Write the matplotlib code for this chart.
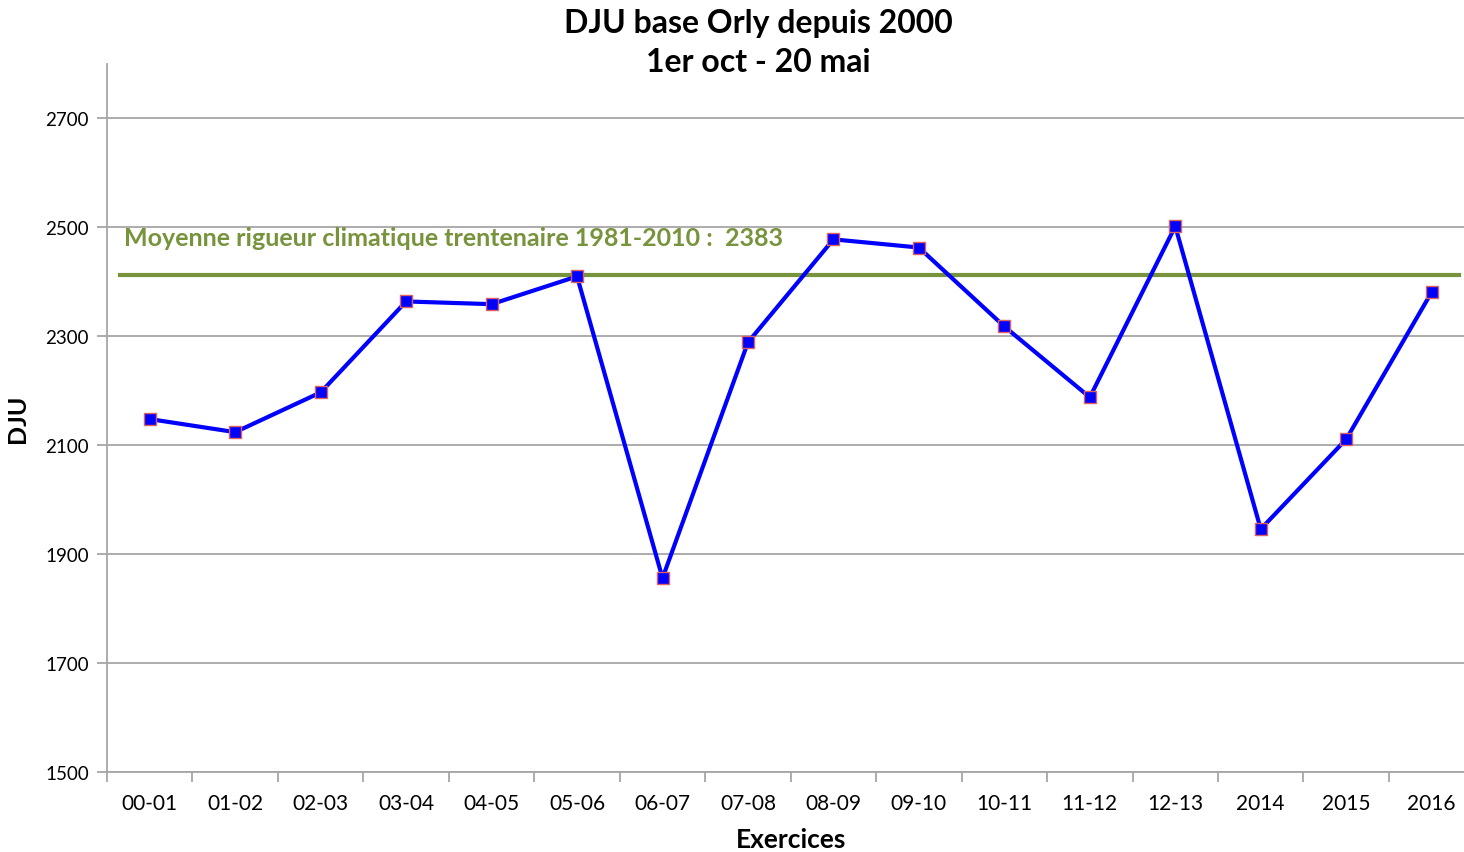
import numpy as np
import matplotlib
matplotlib.use('Agg')
from matplotlib import pyplot as plt

plt.rcParams['font.family'] = ['Lato', 'DejaVu Sans']

# data
exercices = ['00-01', '01-02', '02-03', '03-04', '04-05', '05-06', '06-07', '07-08',
             '08-09', '09-10', '10-11', '11-12', '12-13', '2014', '2015', '2016']
dju = [2148, 2124, 2197, 2364, 2359, 2410, 1856, 2289,
       2478, 2463, 2318, 2188, 2502, 1946, 2111, 2381]
moyenne_line = 2412
moyenne_label = 'Moyenne rigueur climatique trentenaire 1981-2010 :  2383'
y_ticks = [1500, 1700, 1900, 2100, 2300, 2500, 2700]

green = '#77933C'
grid_grey = '#A6A6A6'

fig = plt.figure(figsize=(14.64, 8.53), dpi=100)
# the original is cropped on the right, so the axes run slightly past the edge
ax = fig.add_axes([0.0731, 0.0938, 0.934, 0.830])

x = np.arange(len(exercices))

ax.set_ylim(1500, 2800)
ax.set_xlim(-0.5, len(exercices) - 0.5)
ax.set_yticks(y_ticks)
ax.yaxis.grid(True, color=grid_grey, linewidth=1.3)
ax.set_axisbelow(True)

ax.axhline(moyenne_line, xmin=0.0095, xmax=0.989, color=green, linewidth=3, zorder=2)
ax.text(0.0125, 2481, moyenne_label, transform=ax.get_yaxis_transform(),
        color=green, fontsize=18, fontweight='bold', va='center', ha='left')

ax.plot(x, dju, color='#0000FF', linewidth=3, marker='s', markersize=9,
        markerfacecolor='#0000FF', markeredgecolor='#E06060', markeredgewidth=1, zorder=3)

# categories centred, ticks between them
ax.set_xticks(np.arange(len(exercices) + 1) - 0.5)
ax.set_xticklabels([])
ax.set_xticks(x, minor=True)
ax.set_xticklabels(exercices, minor=True, fontsize=15)
ax.tick_params(axis='x', which='minor', length=0, pad=15)
ax.tick_params(axis='x', which='major', length=7, color=grid_grey, width=1.3)
ax.tick_params(axis='y', length=7, color=grid_grey, width=1.3, labelsize=13.5, pad=6)

for side in ['top', 'right']:
    ax.spines[side].set_visible(False)
for side in ['left', 'bottom']:
    ax.spines[side].set_color(grid_grey)
    ax.spines[side].set_linewidth(1.3)

ax.set_ylabel('DJU', fontsize=18, fontweight='bold', labelpad=12)
ax.set_xlabel('Exercices', fontsize=19, fontweight='bold', labelpad=10)
fig.suptitle('DJU base Orly depuis 2000\n1er oct - 20 mai', fontsize=23, fontweight='bold',
             x=0.518, y=0.99, linespacing=1.45)

fig.savefig('out.png', dpi=100)
